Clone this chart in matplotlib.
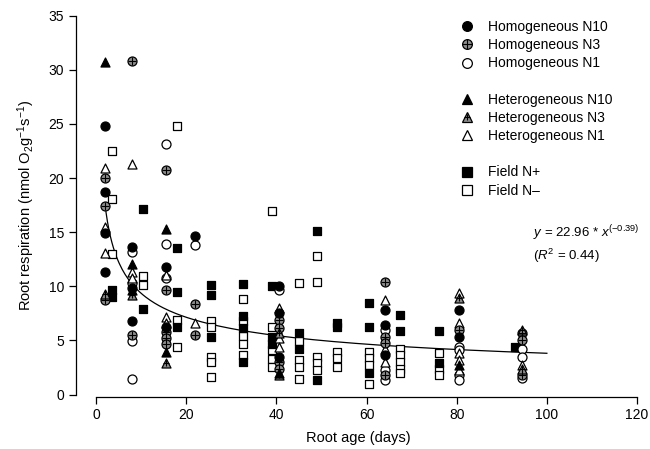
import numpy as np
import matplotlib
matplotlib.use("Agg")
import matplotlib.pyplot as plt
from matplotlib.lines import Line2D

plt.rcParams['font.family'] = ['Liberation Sans', 'DejaVu Sans']
plt.rcParams['mathtext.fontset'] = 'custom'
plt.rcParams['mathtext.rm'] = 'Liberation Sans'
plt.rcParams['mathtext.it'] = 'Liberation Sans:italic'
plt.rcParams['font.size'] = 10

# ==========================
# data (root age in days, respiration in nmol O2 g-1 s-1)
# ==========================

hom_n10_x = [2, 2, 2, 2, 8, 8, 8, 15.5, 15.5, 22, 40.5, 40.5, 40.5, 64, 64, 64, 80.5, 80.5]
hom_n10_y = [24.8, 18.7, 14.9, 11.35, 13.65, 9.8, 6.8, 11.75, 6.25, 14.6, 10.0, 7.5, 3.5, 7.8, 6.4, 3.65, 7.8, 5.35]

hom_n3_x = [2, 2, 2, 8, 8, 15.5, 15.5, 15.5, 15.5, 15.5, 22, 22, 40.5, 40.5, 40.5, 40.5,
            64, 64, 64, 64, 80.5, 94.5, 94.5, 94.5]
hom_n3_y = [20.0, 17.4, 8.75, 30.8, 5.5, 20.75, 9.7, 5.8, 5.2, 4.7, 8.35, 5.5, 6.9, 6.15, 3.05, 2.4,
            10.4, 5.35, 4.75, 1.8, 5.95, 5.65, 5.05, 1.8]

hom_n1_x = [8, 8, 8, 8, 15.5, 15.5, 15.5, 22, 40.5, 64, 64, 64, 80.5, 80.5, 80.5, 80.5, 94.5, 94.5, 94.5]
hom_n1_y = [13.15, 10.3, 4.9, 1.45, 23.15, 13.95, 10.75, 13.8, 9.7, 5.95, 2.25, 1.35, 4.4, 4.1, 1.8, 1.35,
            4.2, 3.5, 1.5]

het_n10_x = [2, 8, 8, 15.5, 15.5, 40.5, 80.5]
het_n10_y = [30.7, 12.1, 9.7, 15.25, 3.95, 1.95, 2.7]

het_n3_x = [2, 8, 15.5, 40.5, 40.5, 80.5, 94.5, 94.5]
het_n3_y = [9.3, 9.2, 2.9, 5.7, 1.8, 8.9, 6.0, 2.4]

het_n1_x = [2, 2, 2, 8, 8, 8, 15.5, 15.5, 15.5, 22, 40.5, 40.5, 40.5, 64, 64, 64,
            80.5, 80.5, 80.5, 80.5, 80.5, 94.5]
het_n1_y = [20.9, 15.5, 13.1, 21.3, 11.35, 10.8, 11.05, 7.2, 6.6, 6.6, 7.95, 5.2, 4.4, 8.75, 4.2, 3.05,
            9.4, 6.6, 3.8, 3.2, 2.25, 2.7]

field_np_x = [3.5, 3.5, 10.5, 10.5, 18, 18, 18, 25.5, 25.5, 25.5, 32.5, 32.5, 32.5, 32.5,
              39, 39, 39, 45, 45, 49, 49, 53.5, 53.5, 60.5, 60.5, 60.5, 67.5, 67.5, 76, 76, 93]
field_np_y = [9.65, 9.05, 17.15, 7.9, 13.55, 9.5, 6.2, 10.1, 9.15, 5.35, 10.2, 7.25, 6.1, 3.05,
              10.0, 5.35, 4.7, 5.65, 4.2, 15.15, 1.35, 6.6, 6.25, 8.5, 6.2, 2.0, 7.35, 5.9, 5.85, 2.9, 4.35]

field_nm_x = [3.5, 3.5, 3.5, 10.5, 10.5, 18, 18, 18, 25.5, 25.5, 25.5, 25.5, 25.5,
              32.5, 32.5, 32.5, 32.5, 32.5, 39, 39, 39, 39, 39, 45, 45, 45, 45, 45,
              49, 49, 49, 49, 49, 53.5, 53.5, 53.5, 60.5, 60.5, 60.5, 60.5,
              67.5, 67.5, 67.5, 67.5, 67.5, 76, 76, 76]
field_nm_y = [22.5, 18.1, 12.95, 10.95, 10.1, 24.85, 6.9, 4.35, 6.75, 6.25, 3.5, 3.0, 1.65,
              8.8, 6.8, 5.4, 4.65, 3.65, 16.95, 6.25, 4.1, 3.25, 2.5, 10.3, 4.9, 3.2, 2.55, 1.4,
              12.8, 10.35, 3.5, 2.9, 2.25, 3.95, 3.35, 2.55, 3.95, 3.35, 2.7, 0.95,
              4.25, 3.65, 3.05, 2.4, 1.95, 3.8, 2.4, 1.8]

# power fit shown on the chart
fit_a = 22.96
fit_b = -0.39

# ==========================
# figure
# ==========================

fig = plt.figure(figsize=(6.5, 4.49), dpi=100)
ax = fig.add_axes([0.1165, 0.1165, 0.8705, 0.8535])

ms = 42
grey = '#8c8c8c'
ek = dict(edgecolors='black', linewidths=0.9, zorder=3)

# field first (drawn below plant symbols)
ax.scatter(field_nm_x, field_nm_y, marker='s', s=ms * 0.85, facecolors='white', **ek)
ax.scatter(field_np_x, field_np_y, marker='s', s=ms * 0.85, facecolors='black', **ek)

ax.scatter(hom_n1_x, hom_n1_y, marker='o', s=ms, facecolors='white', **ek)
ax.scatter(het_n1_x, het_n1_y, marker='^', s=ms, facecolors='white', **ek)
ax.scatter(hom_n3_x, hom_n3_y, marker='o', s=ms, facecolors=grey, **ek)
ax.scatter(hom_n3_x, hom_n3_y, marker='+', s=ms * 0.9, c='black', linewidths=0.8, zorder=4)
ax.scatter(het_n3_x, het_n3_y, marker='^', s=ms, facecolors=grey, **ek)
ax.scatter(het_n3_x, het_n3_y, marker='+', s=ms * 0.45, c='black', linewidths=0.8, zorder=4)
ax.scatter(hom_n10_x, hom_n10_y, marker='o', s=ms, facecolors='black', **ek)
ax.scatter(het_n10_x, het_n10_y, marker='^', s=ms, facecolors='black', **ek)

# fitted curve
xf = np.linspace(2.2, 100, 300)
ax.plot(xf, fit_a * xf ** fit_b, color='black', lw=0.9, zorder=2)

ax.text(0.808, 0.417, r'$y$ = 22.96 * $x^{(\mathrm{-0.39})}$', transform=ax.transAxes, fontsize=9.5)
ax.text(0.808, 0.357, r'($R^2$ = 0.44)', transform=ax.transAxes, fontsize=9.5)

# axes style (detached spines)
ax.set_xlim(-4.5, 121)
ax.set_ylim(-0.2, 35.2)
ax.spines['top'].set_visible(False)
ax.spines['right'].set_visible(False)
ax.spines['left'].set_bounds(0, 35)
ax.spines['bottom'].set_bounds(0, 120)
ax.set_xticks(np.arange(0, 121, 20))
ax.set_yticks(np.arange(0, 36, 5))
ax.tick_params(direction='out', length=5, width=0.9, labelsize=10)
for s in ['left', 'bottom']:
    ax.spines[s].set_linewidth(0.9)

ax.set_xlabel('Root age (days)', fontsize=10.5, labelpad=6)
ax.set_ylabel(r'Root respiration (nmol O$_2$g$^{-1}$s$^{-1}$)', fontsize=10.5, labelpad=8)

# legend
def mk(marker, fc, size=7):
    return Line2D([], [], ls='none', marker=marker, markersize=size, markerfacecolor=fc,
                  markeredgecolor='black', markeredgewidth=0.9)

plus_big = Line2D([], [], ls='none', marker='+', markersize=6.5, color='black', markeredgewidth=0.8)
plus_small = Line2D([], [], ls='none', marker='+', markersize=4.5, color='black', markeredgewidth=0.8)
blank = Line2D([], [], ls='none')

handles = [mk('o', 'black'), (mk('o', grey), plus_big), mk('o', 'white'), blank,
           mk('^', 'black'), (mk('^', grey), plus_small), mk('^', 'white'), blank,
           mk('s', 'black', 6.5), mk('s', 'white', 6.5)]
labels = ['Homogeneous N10', 'Homogeneous N3', 'Homogeneous N1', ' ',
          'Heterogeneous N10', 'Heterogeneous N3', 'Heterogeneous N1', ' ',
          'Field N+', 'Field N\u2013']
ax.legend(handles, labels, loc='upper left', bbox_to_anchor=(0.66, 1.008), frameon=False,
          fontsize=10, handletextpad=0.9, labelspacing=0.30, handlelength=1.2, borderaxespad=0.3)

fig.savefig('out.png', dpi=100)
